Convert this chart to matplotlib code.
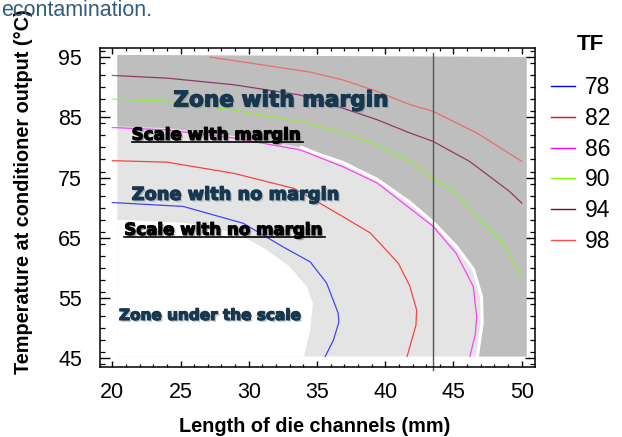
import matplotlib
matplotlib.use("Agg")
import matplotlib.pyplot as plt
import matplotlib.patheffects as pe
from matplotlib.lines import Line2D
from matplotlib.ticker import MultipleLocator

# ---------------- data ----------------
tf_levels = [78, 82, 86, 90, 94, 98]
tf_colors = ["#0000ff", "#ff0000", "#ff00ff", "#80ff00", "#800040", "#ff4a4a"]

x_78 = [20.0, 25.2, 29.6, 32.5, 34.5, 35.7, 36.55, 36.6, 36.2, 35.6]
y_78 = [70.85, 70.2, 67.4, 63.5, 61.0, 57.5, 52.5, 51.0, 48.0, 45.3]

x_82 = [20.0, 24.0, 28.9, 33.3, 35.2, 36.9, 38.9, 40.95, 41.8, 42.3, 42.25, 41.6]
y_82 = [77.8, 77.55, 75.7, 73.2, 70.75, 68.5, 65.8, 60.8, 57.0, 53.0, 50.5, 45.3]

x_86 = [20.0, 24.0, 28.9, 33.75, 36.9, 39.4, 41.8, 43.5, 45.2, 46.45, 46.7, 46.6, 46.2]
y_86 = [83.3, 82.9, 81.55, 79.6, 76.8, 74.1, 69.9, 66.9, 62.4, 56.9, 51.9, 49.0, 45.3]

x_90 = [20.0, 24.0, 28.9, 33.75, 36.9, 39.4, 41.8, 43.5, 45.2, 46.7, 48.65, 50.0]
y_90 = [88.0, 87.7, 86.2, 84.3, 82.4, 80.4, 77.65, 74.9, 72.4, 68.5, 64.1, 58.55]

x_94 = [20.0, 24.0, 28.9, 33.75, 36.9, 39.4, 41.8, 43.5, 46.2, 49.1, 50.0]
y_94 = [91.95, 91.5, 90.4, 88.7, 86.5, 84.6, 82.4, 81.0, 77.65, 72.7, 70.75]

x_98 = [27.16, 34.5, 36.9, 39.4, 41.8, 43.5, 46.7, 50.0]
y_98 = [95.0, 92.5, 91.2, 89.3, 87.1, 86.0, 82.4, 77.7]

tf_x = [x_78, x_82, x_86, x_90, x_94, x_98]
tf_y = [y_78, y_82, y_86, y_90, y_94, y_98]

# zone boundaries
margin_bx = [20.37, 24.0, 28.9, 33.75, 35.2, 36.9, 39.4, 41.8, 43.5, 45.2, 46.45, 47.06, 47.1, 46.75]
margin_by = [83.5, 83.2, 81.9, 80.1, 78.8, 77.5, 74.7, 70.9, 67.6, 63.6, 59.8, 55.2, 50.8, 45.3]

under_bx = [20.37, 25.2, 27.65, 29.6, 31.3, 33.0, 34.25, 34.7, 34.5, 34.05]
under_by = [68.0, 67.5, 66.6, 65.2, 63.0, 60.2, 56.9, 54.1, 49.7, 45.3]

box_x = [20.37, 50.36]
box_y = [45.3, 95.35, 95.0]

x_ref = 43.52

x_ticks = [20, 25, 30, 35, 40, 45, 50]
y_ticks = [45, 55, 65, 75, 85, 95]

# ---------------- figure ----------------
W, H = 622, 437
fig = plt.figure(figsize=(W / 100, H / 100), dpi=100)
ax = fig.add_axes([100 / W, 1 - 366.7 / H, 434.7 / W, 318.7 / H])
ax.set_xlim(19.1, 50.95)
ax.set_ylim(43.6, 96.5)

LIGHT = "#e4e4e4"
DARK = "#bebebe"

# light gray box
ax.fill([box_x[0], box_x[1], box_x[1], box_x[0]],
        [box_y[0], box_y[0], box_y[2], box_y[1]], color=LIGHT, lw=0, zorder=1)
# dark gray zone with margin
dx = margin_bx + [box_x[1], box_x[1], box_x[0]]
dy = margin_by + [box_y[0], box_y[2], box_y[1]]
ax.fill(dx, dy, color=DARK, lw=0, zorder=2)
# white band along the boundary
ax.plot(margin_bx[3:], margin_by[3:], color="white", lw=2.2, zorder=2.5,
        solid_capstyle="butt")
# white zone under the scale
ux = under_bx + [box_x[0] - 0.01]
uy = under_by + [box_y[0] - 0.01]
ax.fill(ux, uy, color="white", lw=0, zorder=3)

# contour lines
for xs, ys, c, lv in zip(tf_x, tf_y, tf_colors, tf_levels):
    ax.plot(xs, ys, color=c, lw=0.9, alpha=0.7, zorder=5)

ax.axvline(x_ref, ymin=-0.01, ymax=0.985, color="#555555", lw=1.0, zorder=6,
           clip_on=False)

# annotations
navy = "#17374f"
def fx(col, sh):
    return [pe.SimplePatchShadow(offset=(1.3, -1.3), shadow_rgbFace=sh, alpha=0.6),
            pe.withStroke(linewidth=0.9, foreground=col)]
ann = dict(family="DejaVu Sans", fontweight="bold", va="baseline", ha="left", zorder=8)
ax.text(24.47, 86.8, "Zone with margin", fontsize=15.6, color=navy, path_effects=fx(navy, "#8a9aa8"), **ann)
ax.text(21.42, 81.26, "Scale with margin", fontsize=12.0, color="black", path_effects=fx("black", "#777777"), **ann)
ax.plot([21.42, 33.95], [80.88, 80.88], color="black", lw=1.2, zorder=8)
ax.text(21.42, 71.3, "Zone with no margin", fontsize=12.8, color=navy, path_effects=fx(navy, "#8a9aa8"), **ann)
ax.text(20.88, 65.48, "Scale with no margin", fontsize=12.0, color="black", path_effects=fx("black", "#777777"), **ann)
ax.plot([20.88, 35.58], [65.2, 65.2], color="black", lw=1.2, zorder=8)
ax.text(20.49, 51.36, "Zone under the scale", fontsize=11.0, color=navy, path_effects=fx(navy, "#8a9aa8"), **ann)

# axes styling
for s in ax.spines.values():
    s.set_linewidth(1.1)
    s.set_zorder(10)
ax.set_xticks(x_ticks)
ax.set_yticks(y_ticks)
ax.xaxis.set_minor_locator(MultipleLocator(1))
ax.yaxis.set_minor_locator(MultipleLocator(2))
ax.tick_params(axis="x", which="major", direction="in", length=4.5, width=1, top=True, pad=11)
ax.tick_params(axis="x", which="minor", direction="in", length=2.5, width=0.9, top=True)
ax.tick_params(axis="y", which="major", direction="in", length=7, width=1, right=True, pad=13)
ax.tick_params(axis="y", which="minor", direction="in", length=3.6, width=0.9, right=True)
for lab in ax.get_xticklabels() + ax.get_yticklabels():
    lab.set_family("Liberation Sans")
    lab.set_fontsize(15.5)

fig.text(315 / W, 1 - 427 / H, "Length of die channels (mm)", family="Liberation Sans",
         fontweight="bold", fontsize=14.3, ha="center", va="center")
fig.text(24 / W, 1 - 191.5 / H, "Temperature at conditioner output (°C)", family="Liberation Sans",
         fontweight="bold", fontsize=14.3, ha="center", va="center", rotation=90)

# legend
handles = [Line2D([], [], color=c, lw=1.0) for c in tf_colors]
leg = fig.legend(handles, [str(v) for v in tf_levels], loc="upper left",
                 bbox_to_anchor=(550.7 / W, 1 - 76 / H), frameon=False,
                 prop=dict(family="Liberation Sans", size=16.5),
                 handlelength=1.07, handletextpad=0.42, labelspacing=0.34,
                 borderpad=0, borderaxespad=0)
fig.text(590 / W, 1 - 44.7 / H, "TF", family="Liberation Sans", fontweight="bold",
         fontsize=16, ha="center", va="center")

# caption fragment at top
fig.text(1 / W, 1 - 16 / H, "econtamination.", family="Liberation Sans",
         fontsize=15.5, color="#2f5d7c", ha="left", va="baseline")

fig.savefig("out.png", dpi=100)
